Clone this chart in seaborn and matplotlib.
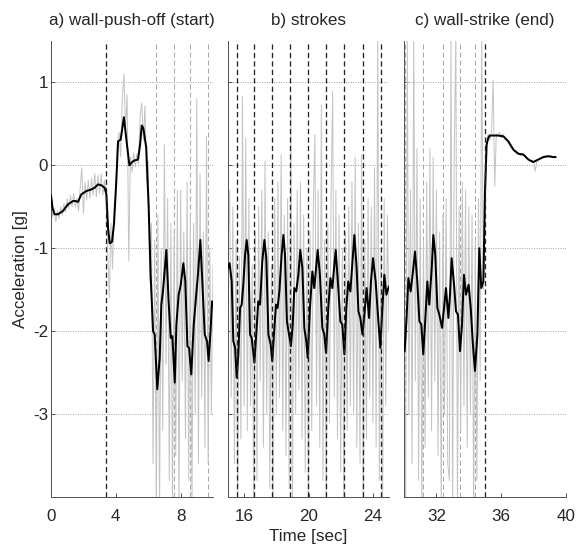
import numpy as np
import matplotlib
matplotlib.use("Agg")
import matplotlib.pyplot as plt
import seaborn as sns

# ---------------------------------------------------------------
# data
# ---------------------------------------------------------------
# raw (gray) signal, sampled every 0.1 s from the panel start
raw_step = 0.1
a_raw_start = 0.0
a_raw = [
    -0.40, -0.62, -0.52, -0.68, -0.55, -0.64, -0.50, -0.60, -0.46, -0.56,
    -0.40, -0.52, -0.36, -0.50, -0.34, -0.50, -0.40, -0.55, -0.28, -0.03,
    -0.58, -0.20, -0.42, -0.18, -0.40, -0.16, -0.36, -0.10, -0.38, -0.12,
    -0.34, -0.10, -0.36, -0.18, -0.36, -1.05, -1.60, -0.70, -1.25, -0.55,
    -0.30, 0.25, 0.40, 0.10, 0.80, 1.10, 0.45, 0.85, -1.15, 0.10,
    -0.08, 0.15, -0.02, 0.14, 0.02, 0.60, 0.75, 0.30, 0.72, -0.20,
    0.05, -1.40, -0.70, -3.60, -0.90, -4.20, -0.60, -4.20, -1.00, -3.20,
    0.25, -2.40, -0.40, -3.80, -0.70, -4.20, -0.80, -3.50, -0.30, -4.20,
    -0.30, -2.60, -0.80, -3.30, -0.20, -3.80, -0.60, -4.20, -0.70, -3.00,
    0.80, -3.60, -0.10, -2.80, -0.80, -3.40, 0.35, -3.60, -1.00, -3.00,
    -1.20,
]
b_raw_start = 15.0
b_raw = [
    -1.00, -0.30, -2.80, -0.50, -3.60, -0.90, -4.20, -1.10, -3.30, 0.83,
    -2.90, 0.33, -3.20, -0.40, -2.90, -1.20, -4.20, -0.80, -3.80, -0.50,
    -2.60, -0.30, -3.40, 0.05, -3.00, -0.80, -3.90, -1.20, -4.20, -0.40,
    -3.00, -0.20, -2.80, 0.13, -3.20, -0.60, -3.50, -0.40, -3.90, 0.81,
    -4.20, -0.70, -3.00, -0.30, -2.70, -0.20, -3.30, -0.60, -3.70, -1.00,
    -4.20, -0.80, -3.20, -0.50, 0.37, -2.90, -0.30, -3.40, 0.73, -3.80,
    -0.90, -4.20, -0.70, -3.10, -0.40, 0.89, -2.80, -0.30, -3.30, -0.60,
    -3.70, -1.00, -4.20, -0.80, -3.20, -0.50, -2.90, -0.20, -3.00, 0.10,
    -3.40, -0.70, -3.60, 0.13, -4.20, -0.90, -3.30, -0.40, -2.80, -0.50,
    -3.10, -0.03, -3.40, 1.60, -3.80, -1.00, -4.20, -0.40, -2.90, -0.60,
    -2.00,
]
c_raw_start = 30.0
c_raw = [
    -2.00, -4.20, 1.60, -3.00, -0.30, -3.60, 1.60, -2.60, 0.20, -3.80,
    -0.40, -4.20, -0.90, -3.40, -0.20, -2.80, 0.20, -3.20, 0.10, -2.60,
    -0.30, -3.50, -0.80, -4.20, -0.60, -3.00, -0.40, -3.60, -3.80, 1.60,
    -4.20, 0.10, 1.60, -4.20, -0.50, -3.20, -0.20, -2.90, -0.30, -3.40,
    -0.50, -3.00, -0.60, -4.20, -0.90, -3.80, -0.40, -2.60, 1.60, -1.50,
    -0.60, 0.28, 0.38, 0.30, 0.40, 1.03, -0.25, 0.38, 0.35, 0.40,
    0.33, 0.38, 0.34, 0.32, 0.28, 0.26, 0.22, 0.20, 0.17, 0.16,
    0.14, 0.15, 0.12, 0.14, 0.12, 0.10, 0.08, 0.07, 0.05, 0.06,
    0.04, -0.07, 0.06, 0.07, 0.08, 0.10, 0.09, 0.11, 0.12, 0.10,
    0.12, 0.11, 0.10, 0.11, 0.10,
]

# smoothed (black) signal
a_time = [0.0, 0.1, 0.22, 0.43, 0.74, 1.05, 1.36, 1.5, 1.67, 1.87, 2.18, 2.49,
          2.69, 2.9, 3.11, 3.31, 3.42, 3.52, 3.62, 3.77, 3.89, 4.03, 4.14, 4.3,
          4.5, 4.66, 4.84, 5.0, 5.16, 5.37, 5.5, 5.6, 5.7, 5.88, 6.03, 6.15,
          6.3, 6.4, 6.56, 6.71, 6.81, 6.91, 7.12, 7.26, 7.39, 7.49, 7.64, 7.74,
          7.88, 8.01, 8.17, 8.29, 8.42, 8.52, 8.66, 8.81, 8.93, 9.07, 9.22,
          9.34, 9.49, 9.63, 9.73, 9.86, 9.94, 10.0]
a_accel = [-0.36, -0.52, -0.59, -0.59, -0.55, -0.47, -0.43, -0.43, -0.44, -0.35,
           -0.31, -0.29, -0.27, -0.23, -0.24, -0.27, -0.35, -0.75, -0.94, -0.92,
           -0.70, -0.19, 0.29, 0.31, 0.58, 0.30, 0.00, 0.04, 0.06, 0.07, 0.25,
           0.48, 0.45, 0.21, -0.51, -1.32, -2.00, -2.04, -2.70, -2.32, -1.68,
           -1.52, -1.02, -1.64, -2.08, -2.06, -2.62, -1.92, -1.56, -1.44, -1.18,
           -1.40, -2.18, -2.20, -2.52, -1.92, -1.64, -1.32, -0.90, -1.40, -2.04,
           -2.12, -2.36, -1.96, -1.64, -1.70]

b_time = [15.0, 15.1, 15.23, 15.33, 15.44, 15.54, 15.64, 15.75, 15.85, 15.95,
          16.06, 16.16, 16.26, 16.37, 16.47, 16.64, 16.78, 16.88, 16.99, 17.13,
          17.26, 17.38, 17.51, 17.65, 17.75, 17.88, 17.98, 18.08, 18.19, 18.33,
          18.44, 18.54, 18.66, 18.79, 18.91, 19.02, 19.12, 19.24, 19.37, 19.49,
          19.62, 19.74, 19.86, 19.95, 20.09, 20.24, 20.36, 20.57, 20.71, 20.86,
          20.98, 21.09, 21.23, 21.36, 21.48, 21.69, 21.85, 21.98, 22.1, 22.23,
          22.35, 22.47, 22.6, 22.85, 22.99, 23.1, 23.22, 23.35, 23.47, 23.61,
          23.76, 23.88, 24.01, 24.17, 24.34, 24.46, 24.59, 24.71, 24.84, 24.96,
          25.0]
b_accel = [-1.24, -1.18, -1.40, -2.12, -2.20, -2.56, -2.28, -1.72, -1.68, -1.44,
           -1.08, -0.90, -1.08, -2.04, -2.08, -2.38, -1.96, -1.64, -1.68, -1.16,
           -0.90, -1.12, -2.04, -2.16, -2.36, -1.96, -1.68, -1.72, -1.52, -1.08,
           -0.84, -1.08, -1.88, -2.04, -2.18, -1.92, -1.48, -1.52, -1.32, -1.02,
           -1.24, -1.96, -2.12, -2.32, -1.72, -1.28, -1.48, -1.02, -1.32, -1.96,
           -2.04, -2.26, -1.72, -1.36, -1.48, -1.02, -1.48, -1.88, -1.92, -2.28,
           -1.72, -1.40, -1.52, -0.84, -1.24, -1.76, -1.84, -2.04, -1.80, -1.48,
           -1.84, -1.40, -1.12, -1.40, -1.88, -2.20, -1.72, -1.32, -1.56, -1.48,
           -1.46]

c_time = [30.04, 30.16, 30.27, 30.41, 30.53, 30.68, 30.82, 30.95, 31.07, 31.19,
          31.32, 31.44, 31.56, 31.71, 31.81, 31.93, 32.06, 32.18, 32.35, 32.47,
          32.59, 32.74, 32.84, 32.94, 33.09, 33.21, 33.33, 33.46, 33.58, 33.7,
          33.83, 33.99, 34.12, 34.24, 34.38, 34.53, 34.65, 34.77, 34.9, 35.0,
          35.1, 35.2, 35.3, 35.51, 35.82, 36.13, 36.44, 36.75, 37.06, 37.37,
          37.68, 37.98, 38.29, 38.6, 38.91, 39.22, 39.36]
c_accel = [-2.24, -1.84, -1.36, -1.52, -1.32, -1.04, -1.40, -1.88, -1.92, -2.28,
           -1.84, -1.40, -1.68, -1.24, -0.84, -1.08, -1.72, -1.80, -1.96, -1.72,
           -1.48, -1.84, -1.56, -1.12, -1.44, -1.76, -1.80, -2.24, -1.92, -1.32,
           -1.56, -1.44, -1.72, -2.12, -2.48, -2.04, -1.00, -1.48, -1.40, -0.31,
           0.25, 0.33, 0.36, 0.36, 0.36, 0.35, 0.29, 0.19, 0.14, 0.13,
           0.07, 0.04, 0.07, 0.10, 0.11, 0.10, 0.10]

# stroke markers
a_black_events = [3.4]
a_gray_events = [6.5, 7.6, 8.6, 9.7]
b_black_events = [15.54, 16.64, 17.72, 18.87, 19.95, 21.08, 22.21, 23.39, 24.5]
b_gray_events = []
c_black_events = [35.0]
c_gray_events = [30.06, 31.19, 32.38, 33.47, 34.4]

titles = ["a) wall-push-off (start)", "b) strokes", "c) wall-strike (end)"]
xlims = [(0, 10), (15, 25), (30, 40)]
xticks = [[0, 4, 8], [16, 20, 24], [32, 36, 40]]
yticks = [-3, -2, -1, 0, 1]

# ---------------------------------------------------------------
# plot
# ---------------------------------------------------------------
sns.set_style("white")
plt.rcParams["font.family"] = ["Liberation Sans", "DejaVu Sans"]
plt.rcParams["axes.unicode_minus"] = False
fs = 17
plt.rcParams["font.size"] = fs

fig = plt.figure(figsize=(576 / 72, 544 / 72), dpi=72)
bottom, height = 47 / 544, 456 / 544
lefts = [51 / 576, 228 / 576, 404 / 576]
widths = [162 / 576, 161 / 576, 162 / 576]

panels = [
    (a_raw_start, a_raw, a_time, a_accel, a_black_events, a_gray_events),
    (b_raw_start, b_raw, b_time, b_accel, b_black_events, b_gray_events),
    (c_raw_start, c_raw, c_time, c_accel, c_black_events, c_gray_events),
]

spine_col = "#555555"
for pos, (raw_start, raw, t, acc, ev_black, ev_gray) in enumerate(panels):
    ax = fig.add_axes([lefts[pos], bottom, widths[pos], height])
    raw_t = raw_start + raw_step * np.arange(len(raw))

    for ev in ev_gray:
        ax.axvline(ev, color="#a8a8a8", lw=1.0, ls=(0, (5, 3)), zorder=1.5)

    sns.lineplot(x=raw_t, y=raw, ax=ax, color="#c4c4c4", lw=1.0,
                 estimator=None, sort=False, zorder=2)
    sns.lineplot(x=t, y=acc, ax=ax, color="black", lw=2.0,
                 estimator=None, sort=False, zorder=3)

    for ev in ev_black:
        ax.axvline(ev, color="#222222", lw=1.3, ls=(0, (4, 2.5)), zorder=4)

    ax.set_xlim(*xlims[pos])
    ax.set_ylim(-4, 1.5)
    ax.set_xticks(xticks[pos])
    ax.set_yticks(yticks)
    ax.yaxis.grid(True, linestyle=(0, (1, 2)), color="#777777", lw=0.8)
    ax.xaxis.grid(False)
    ax.set_axisbelow(True)

    for side in ["top", "right"]:
        ax.spines[side].set_visible(False)
    for side in ["left", "bottom"]:
        ax.spines[side].set_color(spine_col)
        ax.spines[side].set_linewidth(1.0)
    ax.tick_params(direction="in", length=4, width=1, color=spine_col,
                   labelsize=fs, left=True, bottom=True)
    ax.tick_params(axis="x", pad=12)
    ax.tick_params(axis="y", pad=3)

    if pos != 0:
        ax.set_yticklabels([])
    ax.set_title(titles[pos], fontsize=fs, pad=16)
    ax.set_xlabel("")
    ax.set_ylabel("")

    if pos == 0:
        ax.set_ylabel("Acceleration [g]", fontsize=fs, labelpad=5)
    if pos == 1:
        ax.set_xlabel("Time [sec]", fontsize=fs, labelpad=5)

fig.savefig("out.png", dpi=72)
